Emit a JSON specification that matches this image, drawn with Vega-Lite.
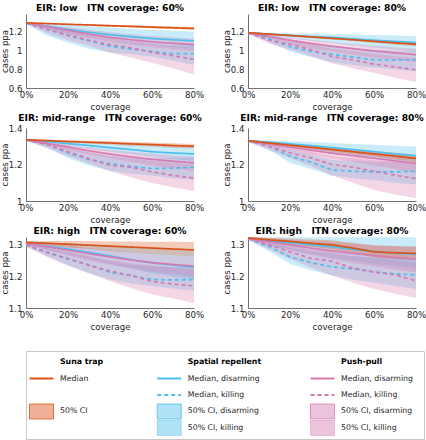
{
"$schema":"https://vega.github.io/schema/vega-lite/v6.json",
"padding":{"top":3,"left":0,"right":0,"bottom":0},
"config":{"font":"DejaVu Sans","view":{"stroke":null},
 "axis":{"labelFont":"DejaVu Sans","labelFontSize":8.6,"labelColor":"#262626","titleFont":"DejaVu Sans","titleFontSize":8.6,"titleFontWeight":"normal","titleColor":"#262626","domainColor":"#4d4d4d","domainWidth":0.8,"ticks":false,"grid":false,"labelPadding":2,"labelOverlap":false},
 "axisY":{"titlePadding":1,"minExtent":16,"maxExtent":16,"labelPadding":4},
 "axisX":{"titlePadding":4,"labelFlush":false},
 "title":{"fontSize":9.2,"fontWeight":"bold","color":"#000000","offset":1,"frame":"group","font":"DejaVu Sans"}},
"datasets":{
"low60":[
{"s":"SRd","x":0,"m":1.295,"lo":1.29,"hi":1.30},{"s":"SRd","x":0.1,"m":1.26,"lo":1.235,"hi":1.29},{"s":"SRd","x":0.2,"m":1.225,"lo":1.185,"hi":1.275},{"s":"SRd","x":0.3,"m":1.195,"lo":1.145,"hi":1.26},{"s":"SRd","x":0.4,"m":1.168,"lo":1.11,"hi":1.245},{"s":"SRd","x":0.5,"m":1.148,"lo":1.085,"hi":1.23},{"s":"SRd","x":0.6,"m":1.128,"lo":1.06,"hi":1.22},{"s":"SRd","x":0.7,"m":1.115,"lo":1.04,"hi":1.21},{"s":"SRd","x":0.8,"m":1.103,"lo":1.02,"hi":1.20},
{"s":"SRk","x":0,"m":1.295,"lo":1.285,"hi":1.30},{"s":"SRk","x":0.1,"m":1.225,"lo":1.16,"hi":1.25},{"s":"SRk","x":0.2,"m":1.16,"lo":1.085,"hi":1.20},{"s":"SRk","x":0.3,"m":1.103,"lo":1.02,"hi":1.155},{"s":"SRk","x":0.4,"m":1.045,"lo":0.98,"hi":1.11},{"s":"SRk","x":0.5,"m":1.016,"lo":0.96,"hi":1.09},{"s":"SRk","x":0.6,"m":0.99,"lo":0.935,"hi":1.07},{"s":"SRk","x":0.7,"m":0.966,"lo":0.89,"hi":1.055},{"s":"SRk","x":0.8,"m":0.966,"lo":0.845,"hi":1.06},
{"s":"PPd","x":0,"m":1.295,"lo":1.29,"hi":1.30},{"s":"PPd","x":0.1,"m":1.255,"lo":1.23,"hi":1.275},{"s":"PPd","x":0.2,"m":1.215,"lo":1.175,"hi":1.25},{"s":"PPd","x":0.3,"m":1.175,"lo":1.13,"hi":1.22},{"s":"PPd","x":0.4,"m":1.14,"lo":1.09,"hi":1.195},{"s":"PPd","x":0.5,"m":1.115,"lo":1.06,"hi":1.175},{"s":"PPd","x":0.6,"m":1.092,"lo":1.035,"hi":1.155},{"s":"PPd","x":0.7,"m":1.077,"lo":1.015,"hi":1.14},{"s":"PPd","x":0.8,"m":1.063,"lo":0.995,"hi":1.125},
{"s":"PPk","x":0,"m":1.295,"lo":1.285,"hi":1.30},{"s":"PPk","x":0.1,"m":1.225,"lo":1.185,"hi":1.255},{"s":"PPk","x":0.2,"m":1.165,"lo":1.11,"hi":1.21},{"s":"PPk","x":0.3,"m":1.11,"lo":1.05,"hi":1.17},{"s":"PPk","x":0.4,"m":1.063,"lo":0.975,"hi":1.13},{"s":"PPk","x":0.5,"m":1.03,"lo":0.925,"hi":1.10},{"s":"PPk","x":0.6,"m":0.98,"lo":0.87,"hi":1.07},{"s":"PPk","x":0.7,"m":0.945,"lo":0.81,"hi":1.05},{"s":"PPk","x":0.8,"m":0.905,"lo":0.745,"hi":1.03},
{"s":"ST","x":0,"m":1.295,"lo":1.291,"hi":1.299},{"s":"ST","x":0.1,"m":1.288,"lo":1.282,"hi":1.294},{"s":"ST","x":0.2,"m":1.28,"lo":1.273,"hi":1.287},{"s":"ST","x":0.3,"m":1.273,"lo":1.265,"hi":1.281},{"s":"ST","x":0.4,"m":1.265,"lo":1.255,"hi":1.275},{"s":"ST","x":0.5,"m":1.258,"lo":1.247,"hi":1.269},{"s":"ST","x":0.6,"m":1.25,"lo":1.237,"hi":1.263},{"s":"ST","x":0.7,"m":1.243,"lo":1.229,"hi":1.257},{"s":"ST","x":0.8,"m":1.236,"lo":1.222,"hi":1.25}
],
"low80":[
{"s":"SRd","x":0,"m":1.19,"lo":1.185,"hi":1.195},{"s":"SRd","x":0.1,"m":1.175,"lo":1.155,"hi":1.19},{"s":"SRd","x":0.2,"m":1.162,"lo":1.13,"hi":1.185},{"s":"SRd","x":0.3,"m":1.15,"lo":1.105,"hi":1.18},{"s":"SRd","x":0.4,"m":1.14,"lo":1.08,"hi":1.175},{"s":"SRd","x":0.5,"m":1.125,"lo":1.055,"hi":1.17},{"s":"SRd","x":0.6,"m":1.11,"lo":1.03,"hi":1.165},{"s":"SRd","x":0.7,"m":1.098,"lo":1.01,"hi":1.16},{"s":"SRd","x":0.8,"m":1.085,"lo":0.99,"hi":1.155},
{"s":"SRk","x":0,"m":1.19,"lo":1.18,"hi":1.195},{"s":"SRk","x":0.1,"m":1.124,"lo":1.09,"hi":1.16},{"s":"SRk","x":0.2,"m":1.04,"lo":0.99,"hi":1.10},{"s":"SRk","x":0.3,"m":0.99,"lo":0.93,"hi":1.07},{"s":"SRk","x":0.4,"m":0.96,"lo":0.875,"hi":1.05},{"s":"SRk","x":0.5,"m":0.93,"lo":0.845,"hi":1.03},{"s":"SRk","x":0.6,"m":0.90,"lo":0.82,"hi":1.01},{"s":"SRk","x":0.7,"m":0.898,"lo":0.80,"hi":1.00},{"s":"SRk","x":0.8,"m":0.905,"lo":0.78,"hi":1.00},
{"s":"PPd","x":0,"m":1.19,"lo":1.185,"hi":1.195},{"s":"PPd","x":0.1,"m":1.15,"lo":1.125,"hi":1.17},{"s":"PPd","x":0.2,"m":1.11,"lo":1.07,"hi":1.14},{"s":"PPd","x":0.3,"m":1.075,"lo":1.025,"hi":1.115},{"s":"PPd","x":0.4,"m":1.045,"lo":0.99,"hi":1.09},{"s":"PPd","x":0.5,"m":1.02,"lo":0.955,"hi":1.07},{"s":"PPd","x":0.6,"m":0.995,"lo":0.925,"hi":1.05},{"s":"PPd","x":0.7,"m":0.975,"lo":0.90,"hi":1.035},{"s":"PPd","x":0.8,"m":0.955,"lo":0.875,"hi":1.02},
{"s":"PPk","x":0,"m":1.19,"lo":1.18,"hi":1.195},{"s":"PPk","x":0.1,"m":1.11,"lo":1.075,"hi":1.145},{"s":"PPk","x":0.2,"m":1.065,"lo":1.01,"hi":1.11},{"s":"PPk","x":0.3,"m":1.01,"lo":0.94,"hi":1.07},{"s":"PPk","x":0.4,"m":0.935,"lo":0.865,"hi":1.02},{"s":"PPk","x":0.5,"m":0.90,"lo":0.81,"hi":0.995},{"s":"PPk","x":0.6,"m":0.855,"lo":0.76,"hi":0.965},{"s":"PPk","x":0.7,"m":0.825,"lo":0.71,"hi":0.94},{"s":"PPk","x":0.8,"m":0.793,"lo":0.665,"hi":0.92},
{"s":"ST","x":0,"m":1.19,"lo":1.186,"hi":1.194},{"s":"ST","x":0.1,"m":1.175,"lo":1.169,"hi":1.181},{"s":"ST","x":0.2,"m":1.16,"lo":1.152,"hi":1.168},{"s":"ST","x":0.3,"m":1.145,"lo":1.135,"hi":1.155},{"s":"ST","x":0.4,"m":1.13,"lo":1.118,"hi":1.142},{"s":"ST","x":0.5,"m":1.115,"lo":1.101,"hi":1.129},{"s":"ST","x":0.6,"m":1.098,"lo":1.082,"hi":1.114},{"s":"ST","x":0.7,"m":1.082,"lo":1.064,"hi":1.10},{"s":"ST","x":0.8,"m":1.067,"lo":1.047,"hi":1.087}
],
"mid60":[
{"s":"SRd","x":0,"m":1.335,"lo":1.33,"hi":1.338},{"s":"SRd","x":0.1,"m":1.325,"lo":1.315,"hi":1.333},{"s":"SRd","x":0.2,"m":1.315,"lo":1.30,"hi":1.328},{"s":"SRd","x":0.3,"m":1.304,"lo":1.285,"hi":1.322},{"s":"SRd","x":0.4,"m":1.292,"lo":1.27,"hi":1.316},{"s":"SRd","x":0.5,"m":1.282,"lo":1.255,"hi":1.31},{"s":"SRd","x":0.6,"m":1.27,"lo":1.24,"hi":1.305},{"s":"SRd","x":0.7,"m":1.263,"lo":1.23,"hi":1.30},{"s":"SRd","x":0.8,"m":1.258,"lo":1.22,"hi":1.295},
{"s":"SRk","x":0,"m":1.335,"lo":1.33,"hi":1.338},{"s":"SRk","x":0.1,"m":1.31,"lo":1.29,"hi":1.32},{"s":"SRk","x":0.2,"m":1.264,"lo":1.235,"hi":1.29},{"s":"SRk","x":0.3,"m":1.227,"lo":1.195,"hi":1.265},{"s":"SRk","x":0.4,"m":1.204,"lo":1.165,"hi":1.25},{"s":"SRk","x":0.5,"m":1.19,"lo":1.15,"hi":1.24},{"s":"SRk","x":0.6,"m":1.178,"lo":1.14,"hi":1.235},{"s":"SRk","x":0.7,"m":1.18,"lo":1.125,"hi":1.235},{"s":"SRk","x":0.8,"m":1.185,"lo":1.115,"hi":1.235},
{"s":"PPd","x":0,"m":1.335,"lo":1.33,"hi":1.338},{"s":"PPd","x":0.1,"m":1.315,"lo":1.305,"hi":1.325},{"s":"PPd","x":0.2,"m":1.296,"lo":1.28,"hi":1.31},{"s":"PPd","x":0.3,"m":1.275,"lo":1.255,"hi":1.295},{"s":"PPd","x":0.4,"m":1.257,"lo":1.235,"hi":1.28},{"s":"PPd","x":0.5,"m":1.242,"lo":1.215,"hi":1.27},{"s":"PPd","x":0.6,"m":1.228,"lo":1.195,"hi":1.26},{"s":"PPd","x":0.7,"m":1.218,"lo":1.18,"hi":1.25},{"s":"PPd","x":0.8,"m":1.209,"lo":1.165,"hi":1.245},
{"s":"PPk","x":0,"m":1.335,"lo":1.33,"hi":1.338},{"s":"PPk","x":0.1,"m":1.31,"lo":1.29,"hi":1.325},{"s":"PPk","x":0.2,"m":1.27,"lo":1.245,"hi":1.30},{"s":"PPk","x":0.3,"m":1.232,"lo":1.205,"hi":1.27},{"s":"PPk","x":0.4,"m":1.196,"lo":1.165,"hi":1.245},{"s":"PPk","x":0.5,"m":1.185,"lo":1.13,"hi":1.235},{"s":"PPk","x":0.6,"m":1.16,"lo":1.098,"hi":1.22},{"s":"PPk","x":0.7,"m":1.14,"lo":1.075,"hi":1.21},{"s":"PPk","x":0.8,"m":1.126,"lo":1.055,"hi":1.20},
{"s":"ST","x":0,"m":1.335,"lo":1.331,"hi":1.339},{"s":"ST","x":0.1,"m":1.331,"lo":1.326,"hi":1.336},{"s":"ST","x":0.2,"m":1.326,"lo":1.32,"hi":1.332},{"s":"ST","x":0.3,"m":1.322,"lo":1.314,"hi":1.33},{"s":"ST","x":0.4,"m":1.318,"lo":1.309,"hi":1.327},{"s":"ST","x":0.5,"m":1.313,"lo":1.303,"hi":1.323},{"s":"ST","x":0.6,"m":1.309,"lo":1.298,"hi":1.32},{"s":"ST","x":0.7,"m":1.304,"lo":1.292,"hi":1.316},{"s":"ST","x":0.8,"m":1.30,"lo":1.287,"hi":1.313}
],
"mid80":[
{"s":"SRd","x":0,"m":1.33,"lo":1.325,"hi":1.335},{"s":"SRd","x":0.1,"m":1.322,"lo":1.31,"hi":1.332},{"s":"SRd","x":0.2,"m":1.313,"lo":1.295,"hi":1.328},{"s":"SRd","x":0.3,"m":1.303,"lo":1.28,"hi":1.323},{"s":"SRd","x":0.4,"m":1.293,"lo":1.265,"hi":1.318},{"s":"SRd","x":0.5,"m":1.282,"lo":1.25,"hi":1.313},{"s":"SRd","x":0.6,"m":1.27,"lo":1.235,"hi":1.308},{"s":"SRd","x":0.7,"m":1.258,"lo":1.22,"hi":1.303},{"s":"SRd","x":0.8,"m":1.248,"lo":1.205,"hi":1.298},
{"s":"SRk","x":0,"m":1.33,"lo":1.325,"hi":1.335},{"s":"SRk","x":0.1,"m":1.30,"lo":1.28,"hi":1.32},{"s":"SRk","x":0.2,"m":1.245,"lo":1.21,"hi":1.28},{"s":"SRk","x":0.3,"m":1.213,"lo":1.175,"hi":1.255},{"s":"SRk","x":0.4,"m":1.17,"lo":1.14,"hi":1.225},{"s":"SRk","x":0.5,"m":1.163,"lo":1.125,"hi":1.22},{"s":"SRk","x":0.6,"m":1.159,"lo":1.115,"hi":1.215},{"s":"SRk","x":0.7,"m":1.16,"lo":1.10,"hi":1.215},{"s":"SRk","x":0.8,"m":1.163,"lo":1.09,"hi":1.215},
{"s":"PPd","x":0,"m":1.33,"lo":1.325,"hi":1.335},{"s":"PPd","x":0.1,"m":1.313,"lo":1.30,"hi":1.325},{"s":"PPd","x":0.2,"m":1.295,"lo":1.278,"hi":1.312},{"s":"PPd","x":0.3,"m":1.278,"lo":1.255,"hi":1.30},{"s":"PPd","x":0.4,"m":1.262,"lo":1.235,"hi":1.288},{"s":"PPd","x":0.5,"m":1.248,"lo":1.215,"hi":1.278},{"s":"PPd","x":0.6,"m":1.234,"lo":1.195,"hi":1.268},{"s":"PPd","x":0.7,"m":1.22,"lo":1.175,"hi":1.258},{"s":"PPd","x":0.8,"m":1.205,"lo":1.155,"hi":1.248},
{"s":"PPk","x":0,"m":1.33,"lo":1.325,"hi":1.335},{"s":"PPk","x":0.1,"m":1.30,"lo":1.28,"hi":1.315},{"s":"PPk","x":0.2,"m":1.264,"lo":1.235,"hi":1.29},{"s":"PPk","x":0.3,"m":1.236,"lo":1.19,"hi":1.27},{"s":"PPk","x":0.4,"m":1.20,"lo":1.14,"hi":1.245},{"s":"PPk","x":0.5,"m":1.185,"lo":1.10,"hi":1.235},{"s":"PPk","x":0.6,"m":1.163,"lo":1.06,"hi":1.225},{"s":"PPk","x":0.7,"m":1.142,"lo":1.035,"hi":1.215},{"s":"PPk","x":0.8,"m":1.122,"lo":1.015,"hi":1.21},
{"s":"ST","x":0,"m":1.33,"lo":1.326,"hi":1.334},{"s":"ST","x":0.1,"m":1.318,"lo":1.312,"hi":1.324},{"s":"ST","x":0.2,"m":1.306,"lo":1.298,"hi":1.314},{"s":"ST","x":0.3,"m":1.294,"lo":1.284,"hi":1.304},{"s":"ST","x":0.4,"m":1.282,"lo":1.27,"hi":1.294},{"s":"ST","x":0.5,"m":1.27,"lo":1.256,"hi":1.284},{"s":"ST","x":0.6,"m":1.258,"lo":1.242,"hi":1.274},{"s":"ST","x":0.7,"m":1.246,"lo":1.228,"hi":1.264},{"s":"ST","x":0.8,"m":1.233,"lo":1.213,"hi":1.253}
],
"high60":[
{"s":"SRd","x":0,"m":1.305,"lo":1.30,"hi":1.31},{"s":"SRd","x":0.1,"m":1.296,"lo":1.285,"hi":1.308},{"s":"SRd","x":0.2,"m":1.287,"lo":1.27,"hi":1.305},{"s":"SRd","x":0.3,"m":1.276,"lo":1.255,"hi":1.302},{"s":"SRd","x":0.4,"m":1.265,"lo":1.24,"hi":1.298},{"s":"SRd","x":0.5,"m":1.253,"lo":1.225,"hi":1.295},{"s":"SRd","x":0.6,"m":1.243,"lo":1.21,"hi":1.29},{"s":"SRd","x":0.7,"m":1.236,"lo":1.20,"hi":1.285},{"s":"SRd","x":0.8,"m":1.23,"lo":1.19,"hi":1.28},
{"s":"SRk","x":0,"m":1.30,"lo":1.295,"hi":1.305},{"s":"SRk","x":0.1,"m":1.275,"lo":1.265,"hi":1.29},{"s":"SRk","x":0.2,"m":1.255,"lo":1.235,"hi":1.275},{"s":"SRk","x":0.3,"m":1.237,"lo":1.21,"hi":1.262},{"s":"SRk","x":0.4,"m":1.213,"lo":1.19,"hi":1.245},{"s":"SRk","x":0.5,"m":1.203,"lo":1.178,"hi":1.238},{"s":"SRk","x":0.6,"m":1.19,"lo":1.17,"hi":1.232},{"s":"SRk","x":0.7,"m":1.189,"lo":1.162,"hi":1.23},{"s":"SRk","x":0.8,"m":1.19,"lo":1.155,"hi":1.23},
{"s":"PPd","x":0,"m":1.305,"lo":1.30,"hi":1.31},{"s":"PPd","x":0.1,"m":1.294,"lo":1.283,"hi":1.305},{"s":"PPd","x":0.2,"m":1.283,"lo":1.266,"hi":1.298},{"s":"PPd","x":0.3,"m":1.272,"lo":1.25,"hi":1.29},{"s":"PPd","x":0.4,"m":1.262,"lo":1.237,"hi":1.283},{"s":"PPd","x":0.5,"m":1.252,"lo":1.225,"hi":1.277},{"s":"PPd","x":0.6,"m":1.244,"lo":1.215,"hi":1.271},{"s":"PPd","x":0.7,"m":1.238,"lo":1.207,"hi":1.266},{"s":"PPd","x":0.8,"m":1.233,"lo":1.20,"hi":1.262},
{"s":"PPk","x":0,"m":1.30,"lo":1.295,"hi":1.305},{"s":"PPk","x":0.1,"m":1.277,"lo":1.262,"hi":1.29},{"s":"PPk","x":0.2,"m":1.257,"lo":1.235,"hi":1.278},{"s":"PPk","x":0.3,"m":1.235,"lo":1.21,"hi":1.265},{"s":"PPk","x":0.4,"m":1.217,"lo":1.185,"hi":1.252},{"s":"PPk","x":0.5,"m":1.203,"lo":1.163,"hi":1.242},{"s":"PPk","x":0.6,"m":1.184,"lo":1.143,"hi":1.235},{"s":"PPk","x":0.7,"m":1.176,"lo":1.13,"hi":1.228},{"s":"PPk","x":0.8,"m":1.17,"lo":1.116,"hi":1.222},
{"s":"ST","x":0,"m":1.308,"lo":1.304,"hi":1.312},{"s":"ST","x":0.1,"m":1.305,"lo":1.298,"hi":1.312},{"s":"ST","x":0.2,"m":1.302,"lo":1.292,"hi":1.312},{"s":"ST","x":0.3,"m":1.299,"lo":1.287,"hi":1.312},{"s":"ST","x":0.4,"m":1.296,"lo":1.281,"hi":1.311},{"s":"ST","x":0.5,"m":1.293,"lo":1.276,"hi":1.311},{"s":"ST","x":0.6,"m":1.29,"lo":1.271,"hi":1.31},{"s":"ST","x":0.7,"m":1.287,"lo":1.267,"hi":1.31},{"s":"ST","x":0.8,"m":1.284,"lo":1.262,"hi":1.309}
],
"high80":[
{"s":"SRd","x":0,"m":1.32,"lo":1.316,"hi":1.324},{"s":"SRd","x":0.1,"m":1.313,"lo":1.30,"hi":1.324},{"s":"SRd","x":0.2,"m":1.307,"lo":1.285,"hi":1.324},{"s":"SRd","x":0.3,"m":1.30,"lo":1.272,"hi":1.324},{"s":"SRd","x":0.4,"m":1.294,"lo":1.26,"hi":1.324},{"s":"SRd","x":0.5,"m":1.286,"lo":1.25,"hi":1.324},{"s":"SRd","x":0.6,"m":1.279,"lo":1.24,"hi":1.324},{"s":"SRd","x":0.7,"m":1.274,"lo":1.232,"hi":1.324},{"s":"SRd","x":0.8,"m":1.27,"lo":1.225,"hi":1.324},
{"s":"SRk","x":0,"m":1.32,"lo":1.316,"hi":1.324},{"s":"SRk","x":0.1,"m":1.295,"lo":1.28,"hi":1.31},{"s":"SRk","x":0.2,"m":1.262,"lo":1.24,"hi":1.29},{"s":"SRk","x":0.3,"m":1.244,"lo":1.22,"hi":1.278},{"s":"SRk","x":0.4,"m":1.23,"lo":1.203,"hi":1.27},{"s":"SRk","x":0.5,"m":1.224,"lo":1.19,"hi":1.265},{"s":"SRk","x":0.6,"m":1.214,"lo":1.18,"hi":1.26},{"s":"SRk","x":0.7,"m":1.208,"lo":1.17,"hi":1.257},{"s":"SRk","x":0.8,"m":1.205,"lo":1.16,"hi":1.255},
{"s":"PPd","x":0,"m":1.32,"lo":1.316,"hi":1.324},{"s":"PPd","x":0.1,"m":1.31,"lo":1.298,"hi":1.32},{"s":"PPd","x":0.2,"m":1.30,"lo":1.282,"hi":1.316},{"s":"PPd","x":0.3,"m":1.29,"lo":1.268,"hi":1.312},{"s":"PPd","x":0.4,"m":1.281,"lo":1.255,"hi":1.308},{"s":"PPd","x":0.5,"m":1.273,"lo":1.243,"hi":1.304},{"s":"PPd","x":0.6,"m":1.266,"lo":1.232,"hi":1.30},{"s":"PPd","x":0.7,"m":1.26,"lo":1.222,"hi":1.297},{"s":"PPd","x":0.8,"m":1.255,"lo":1.213,"hi":1.294},
{"s":"PPk","x":0,"m":1.32,"lo":1.316,"hi":1.324},{"s":"PPk","x":0.1,"m":1.30,"lo":1.285,"hi":1.315},{"s":"PPk","x":0.2,"m":1.278,"lo":1.255,"hi":1.30},{"s":"PPk","x":0.3,"m":1.257,"lo":1.228,"hi":1.285},{"s":"PPk","x":0.4,"m":1.248,"lo":1.203,"hi":1.278},{"s":"PPk","x":0.5,"m":1.226,"lo":1.18,"hi":1.265},{"s":"PPk","x":0.6,"m":1.214,"lo":1.16,"hi":1.258},{"s":"PPk","x":0.7,"m":1.205,"lo":1.145,"hi":1.252},{"s":"PPk","x":0.8,"m":1.186,"lo":1.132,"hi":1.245},
{"s":"ST","x":0,"m":1.322,"lo":1.318,"hi":1.326},{"s":"ST","x":0.1,"m":1.316,"lo":1.31,"hi":1.323},{"s":"ST","x":0.2,"m":1.311,"lo":1.302,"hi":1.32},{"s":"ST","x":0.3,"m":1.305,"lo":1.294,"hi":1.317},{"s":"ST","x":0.4,"m":1.30,"lo":1.286,"hi":1.315},{"s":"ST","x":0.5,"m":1.29,"lo":1.274,"hi":1.307},{"s":"ST","x":0.6,"m":1.278,"lo":1.26,"hi":1.298},{"s":"ST","x":0.7,"m":1.275,"lo":1.255,"hi":1.296},{"s":"ST","x":0.8,"m":1.273,"lo":1.251,"hi":1.294}
],
"leg":[
{"g":"Suna trap","r":0,"k":"h","lab":"Suna trap"},
{"g":"Suna trap","r":1,"k":"l","s":"ST","lab":"Median"},
{"g":"Suna trap","r":3,"k":"b","s":"ST","lab":"50% CI"},
{"g":"Spatial repellent","r":0,"k":"h","lab":"Spatial repellent"},
{"g":"Spatial repellent","r":1,"k":"l","s":"SRd","lab":"Median, disarming"},
{"g":"Spatial repellent","r":2,"k":"l","s":"SRk","lab":"Median, killing"},
{"g":"Spatial repellent","r":3,"k":"b","s":"SRd","lab":"50% CI, disarming"},
{"g":"Spatial repellent","r":4,"k":"b","s":"SRk","lab":"50% CI, killing"},
{"g":"Push-pull","r":0,"k":"h","lab":"Push-pull"},
{"g":"Push-pull","r":1,"k":"l","s":"PPd","lab":"Median, disarming"},
{"g":"Push-pull","r":2,"k":"l","s":"PPk","lab":"Median, killing"},
{"g":"Push-pull","r":3,"k":"b","s":"PPd","lab":"50% CI, disarming"},
{"g":"Push-pull","r":4,"k":"b","s":"PPk","lab":"50% CI, killing"}
]
},
"columns":1,
"spacing":18,
"concat":[
{"spacing":1,"vconcat":[
 {"spacing":18,"hconcat":[
  {"width":168,"height":74,"title":"EIR: low\u00a0\u00a0\u00a0ITN coverage: 60%","data":{"name":"low60"},
   "encoding":{"x":{"field":"x","type":"quantitative","scale":{"domain":[0,0.8],"nice":false},"axis":{"values":[0,0.2,0.4,0.6,0.8],"tickCount":10,"format":".0%","title":"coverage"}}},
   "layer":[
    {"mark":{"type":"area","opacity":0.3,"clip":true},"encoding":{"y":{"field":"lo","type":"quantitative","stack":null,"scale":{"domain":[0.6,1.39],"nice":false,"zero":false},"axis":{"values":[0.6,0.8,1,1.2],"tickCount":10,"format":"~g","title":"cases ppa","labelOverlap":false}},"y2":{"field":"hi"},"color":{"field":"s","type":"nominal","scale":{"domain":["ST","SRd","SRk","PPd","PPk"],"range":["#D95319","#4DBEEE","#4DBEEE","#D67AB1","#D67AB1"]},"legend":null}}},
    {"mark":{"type":"line","strokeWidth":1.7,"clip":true},"encoding":{"y":{"field":"m","type":"quantitative"},"color":{"field":"s","type":"nominal","legend":null},"strokeDash":{"condition":{"test":"datum.s=='SRk'||datum.s=='PPk'","value":[4,3]},"value":[1,0]}}}
   ]},
  {"width":168,"height":74,"title":"EIR: low\u00a0\u00a0\u00a0ITN coverage: 80%","data":{"name":"low80"},
   "encoding":{"x":{"field":"x","type":"quantitative","scale":{"domain":[0,0.8],"nice":false},"axis":{"values":[0,0.2,0.4,0.6,0.8],"tickCount":10,"format":".0%","title":"coverage"}}},
   "layer":[
    {"mark":{"type":"area","opacity":0.3,"clip":true},"encoding":{"y":{"field":"lo","type":"quantitative","stack":null,"scale":{"domain":[0.6,1.39],"nice":false,"zero":false},"axis":{"values":[0.6,0.8,1,1.2],"tickCount":10,"format":"~g","title":"cases ppa","labelOverlap":false}},"y2":{"field":"hi"},"color":{"field":"s","type":"nominal","scale":{"domain":["ST","SRd","SRk","PPd","PPk"],"range":["#D95319","#4DBEEE","#4DBEEE","#D67AB1","#D67AB1"]},"legend":null}}},
    {"mark":{"type":"line","strokeWidth":1.7,"clip":true},"encoding":{"y":{"field":"m","type":"quantitative"},"color":{"field":"s","type":"nominal","legend":null},"strokeDash":{"condition":{"test":"datum.s=='SRk'||datum.s=='PPk'","value":[4,3]},"value":[1,0]}}}
   ]}
 ]},
 {"spacing":18,"hconcat":[
  {"width":168,"height":73,"title":"EIR: mid-range\u00a0\u00a0\u00a0ITN coverage: 60%","data":{"name":"mid60"},
   "encoding":{"x":{"field":"x","type":"quantitative","scale":{"domain":[0,0.8],"nice":false},"axis":{"values":[0,0.2,0.4,0.6,0.8],"tickCount":10,"format":".0%","title":"coverage"}}},
   "layer":[
    {"mark":{"type":"area","opacity":0.3,"clip":true},"encoding":{"y":{"field":"lo","type":"quantitative","stack":null,"scale":{"domain":[1,1.4],"nice":false,"zero":false},"axis":{"values":[1,1.2,1.4],"tickCount":10,"format":"~g","title":"cases ppa","labelOverlap":false}},"y2":{"field":"hi"},"color":{"field":"s","type":"nominal","scale":{"domain":["ST","SRd","SRk","PPd","PPk"],"range":["#D95319","#4DBEEE","#4DBEEE","#D67AB1","#D67AB1"]},"legend":null}}},
    {"mark":{"type":"line","strokeWidth":1.7,"clip":true},"encoding":{"y":{"field":"m","type":"quantitative"},"color":{"field":"s","type":"nominal","legend":null},"strokeDash":{"condition":{"test":"datum.s=='SRk'||datum.s=='PPk'","value":[4,3]},"value":[1,0]}}}
   ]},
  {"width":168,"height":73,"title":"EIR: mid-range\u00a0\u00a0\u00a0ITN coverage: 80%","data":{"name":"mid80"},
   "encoding":{"x":{"field":"x","type":"quantitative","scale":{"domain":[0,0.8],"nice":false},"axis":{"values":[0,0.2,0.4,0.6,0.8],"tickCount":10,"format":".0%","title":"coverage"}}},
   "layer":[
    {"mark":{"type":"area","opacity":0.3,"clip":true},"encoding":{"y":{"field":"lo","type":"quantitative","stack":null,"scale":{"domain":[1,1.4],"nice":false,"zero":false},"axis":{"values":[1,1.2,1.4],"tickCount":10,"format":"~g","title":"cases ppa","labelOverlap":false}},"y2":{"field":"hi"},"color":{"field":"s","type":"nominal","scale":{"domain":["ST","SRd","SRk","PPd","PPk"],"range":["#D95319","#4DBEEE","#4DBEEE","#D67AB1","#D67AB1"]},"legend":null}}},
    {"mark":{"type":"line","strokeWidth":1.7,"clip":true},"encoding":{"y":{"field":"m","type":"quantitative"},"color":{"field":"s","type":"nominal","legend":null},"strokeDash":{"condition":{"test":"datum.s=='SRk'||datum.s=='PPk'","value":[4,3]},"value":[1,0]}}}
   ]}
 ]},
 {"spacing":18,"hconcat":[
  {"width":168,"height":71,"title":"EIR: high\u00a0\u00a0\u00a0ITN coverage: 60%","data":{"name":"high60"},
   "encoding":{"x":{"field":"x","type":"quantitative","scale":{"domain":[0,0.8],"nice":false},"axis":{"values":[0,0.2,0.4,0.6,0.8],"tickCount":10,"format":".0%","title":"coverage"}}},
   "layer":[
    {"mark":{"type":"area","opacity":0.3,"clip":true},"encoding":{"y":{"field":"lo","type":"quantitative","stack":null,"scale":{"domain":[1.1,1.325],"nice":false,"zero":false},"axis":{"values":[1.1,1.2,1.3],"tickCount":10,"format":"~g","title":"cases ppa","labelOverlap":false}},"y2":{"field":"hi"},"color":{"field":"s","type":"nominal","scale":{"domain":["ST","SRd","SRk","PPd","PPk"],"range":["#D95319","#4DBEEE","#4DBEEE","#D67AB1","#D67AB1"]},"legend":null}}},
    {"mark":{"type":"line","strokeWidth":1.7,"clip":true},"encoding":{"y":{"field":"m","type":"quantitative"},"color":{"field":"s","type":"nominal","legend":null},"strokeDash":{"condition":{"test":"datum.s=='SRk'||datum.s=='PPk'","value":[4,3]},"value":[1,0]}}}
   ]},
  {"width":168,"height":71,"title":"EIR: high\u00a0\u00a0\u00a0ITN coverage: 80%","data":{"name":"high80"},
   "encoding":{"x":{"field":"x","type":"quantitative","scale":{"domain":[0,0.8],"nice":false},"axis":{"values":[0,0.2,0.4,0.6,0.8],"tickCount":10,"format":".0%","title":"coverage"}}},
   "layer":[
    {"mark":{"type":"area","opacity":0.3,"clip":true},"encoding":{"y":{"field":"lo","type":"quantitative","stack":null,"scale":{"domain":[1.1,1.325],"nice":false,"zero":false},"axis":{"values":[1.1,1.2,1.3],"tickCount":10,"format":"~g","title":"cases ppa","labelOverlap":false}},"y2":{"field":"hi"},"color":{"field":"s","type":"nominal","scale":{"domain":["ST","SRd","SRk","PPd","PPk"],"range":["#D95319","#4DBEEE","#4DBEEE","#D67AB1","#D67AB1"]},"legend":null}}},
    {"mark":{"type":"line","strokeWidth":1.7,"clip":true},"encoding":{"y":{"field":"m","type":"quantitative"},"color":{"field":"s","type":"nominal","legend":null},"strokeDash":{"condition":{"test":"datum.s=='SRk'||datum.s=='PPk'","value":[4,3]},"value":[1,0]}}}
   ]}
 ]}
]},
{"width":398,"height":88,"data":{"name":"leg"},"view":{"stroke":"#c8c8c8"},
 "encoding":{
  "x":{"field":"g","type":"nominal","scale":{"type":"point","domain":["a0","a1","Suna trap","s1","s2","s3","s4","Spatial repellent","s5","s6","s7","s8","s9","Push-pull","b0","b1"],"padding":0.29},"axis":null},
  "y":{"field":"r","type":"ordinal","scale":{"type":"point","domain":[0,1,2,3,4],"padding":0.67},"axis":null}
 },
 "layer":[
  {"transform":[{"filter":"datum.k=='h'"}],"mark":{"type":"text","align":"left","dx":-24.5,"fontWeight":"bold","fontSize":7.8,"color":"#000000"},"encoding":{"text":{"field":"lab"}}},
  {"transform":[{"filter":"datum.k!='h'"}],"mark":{"type":"text","align":"left","dx":-24.5,"fontSize":7.8,"color":"#262626"},"encoding":{"text":{"field":"lab"}}},
  {"transform":[{"filter":"datum.k=='l'"}],"mark":{"type":"point","shape":"stroke","size":576,"strokeWidth":1.8,"filled":false,"opacity":1},"encoding":{"xOffset":{"value":-43},"color":{"field":"s","type":"nominal","scale":{"domain":["ST","SRd","SRk","PPd","PPk"],"range":["#D95319","#4DBEEE","#4DBEEE","#D67AB1","#D67AB1"]},"legend":null},"strokeDash":{"condition":{"test":"datum.s=='SRk'||datum.s=='PPk'","value":[4,3]},"value":[1,0]}}},
  {"transform":[{"filter":"datum.k=='b'"}],"mark":{"type":"point","shape":"M-1,-0.625H1V0.625H-1Z","size":576,"filled":true,"fillOpacity":0.45,"strokeWidth":0.8,"opacity":1},"encoding":{"xOffset":{"value":-43},"fill":{"field":"s","type":"nominal","scale":{"domain":["ST","SRd","SRk","PPd","PPk"],"range":["#D95319","#4DBEEE","#4DBEEE","#D67AB1","#D67AB1"]},"legend":null},"stroke":{"field":"s","type":"nominal","scale":{"domain":["ST","SRd","SRk","PPd","PPk"],"range":["#D95319","#4DBEEE","#4DBEEE","#D67AB1","#D67AB1"]},"legend":null},"strokeDash":{"condition":{"test":"datum.s=='SRk'||datum.s=='PPk'","value":[1,1]},"value":[1,0]}}}
 ]}
]
}
